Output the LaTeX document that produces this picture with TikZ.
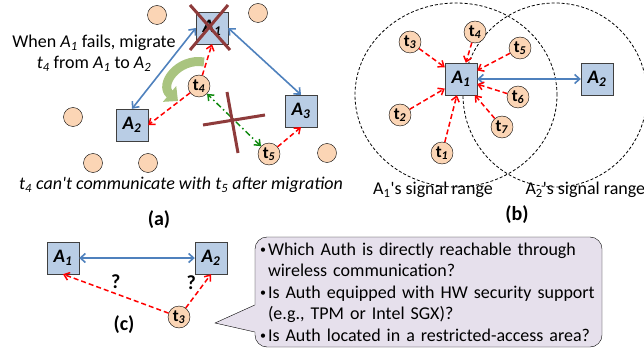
\documentclass[tikz,border=0pt]{standalone}
\usepackage{fontspec}
\setmainfont{Carlito}
\usetikzlibrary{positioning, arrows.meta}

\definecolor{authfill}{HTML}{B9CDE5}
\definecolor{thingfill}{HTML}{FBD5B5}
\definecolor{linkblue}{HTML}{4F81BD}
\definecolor{crossred}{HTML}{8E3B3B}
\definecolor{askfill}{HTML}{E6E0EC}
\definecolor{migfill}{HTML}{A9C47F}
\definecolor{peergreen}{HTML}{108A10}

\newcommand{\auth}[1]{\textbf{\textit{A}\textsubscript{\textit{#1}}}}
\newcommand{\thing}[1]{\textbf{t\textsubscript{\textit{#1}}}}
\newcommand{\ita}[2]{\textit{#1\textsubscript{#2}}}
\newcommand{\bul}{\makebox[8pt][l]{\raisebox{0.15ex}{\fontsize{12}{12}\selectfont\textbullet}}}
\newcommand{\bulpad}{\hspace*{8pt}}

\begin{document}
\begin{tikzpicture}[x=1pt, y=1pt,
  auth/.style={draw=black!75, fill=authfill, minimum size=32pt, inner sep=0pt,
               font=\fontsize{19}{19}\selectfont},
  thing/.style={circle, draw, fill=thingfill, minimum size=22pt, inner sep=0pt,
                font=\fontsize{17}{17}\selectfont},
  idle/.style={circle, draw, fill=thingfill, minimum size=19pt, inner sep=0pt},
  link/.style={{Straight Barb[length=5pt,width=9pt]}-{Straight Barb[length=5pt,width=9pt]},
               draw=linkblue, line width=1.6pt},
  req/.style={-{Straight Barb[length=5pt,width=8pt]}, draw=red, line width=1.5pt,
              dash pattern=on 5pt off 3pt},
  peer/.style={{Straight Barb[length=5pt,width=8pt]}-{Straight Barb[length=5pt,width=8pt]},
               draw=peergreen, line width=1.5pt, dash pattern=on 6pt off 3pt on 1.5pt off 3pt},
  cut/.style={draw=crossred, line width=3pt},
  migrate/.style={draw=migfill, line width=9pt, -{Triangle[length=11pt,width=20pt]}},
  sigrange/.style={draw, line width=0.8pt, dash pattern=on 3pt off 2pt},
  txt/.style={font=\fontsize{18}{21}\selectfont},
  tag/.style={font=\bfseries\fontsize{20}{20}\selectfont},
  bubble/.style={draw, fill=askfill, rounded corners=12pt, minimum height=110pt,
                 text width=337pt, inner xsep=5pt, align=left,
                 font=\fontsize{18}{21.5}\selectfont},
]
  \useasboundingbox (0,0) rectangle (644,351);

  % (a) failure of A1
  \coordinate (migfrom) at (204,289);
  \coordinate (migto) at (178,250);
  \draw[migrate] (migfrom) to[out=170, in=140, looseness=1.4] (migto);

  \node[auth] (A1a) at (212,323) {\auth{1}};
  \node[auth] (A2a) at (132,226) {\auth{2}};
  \node[auth] (A3a) at (301,240) {\auth{3}};
  \node[thing] (t4a) at (199,265) {\thing{4}};
  \node[thing] (t5a) at (269,197) {\thing{5}};
  \foreach \p [count=\i] in {(157,336),(258,338),(73,234),(93,188),(148,188),(327,198)}
    \node[idle] (idle\i) at \p {};

  \draw[link] (A1a.west) -- (A2a.north);
  \draw[link] (A1a.east) -- (A3a.north);
  \draw[req] (t4a) -- (A1a.south);
  \draw[req] (t4a) -- (A2a.east);
  \draw[req] (t5a) -- (A3a.south);
  \draw[peer] (t5a) -- (t4a);

  \draw[cut] ([shift={(-22,23)}]A1a.center) -- ([shift={(18,-22)}]A1a.center)
             ([shift={(16,23)}]A1a.center) -- ([shift={(-22,-22)}]A1a.center);
  \draw[cut] (203,226) -- (265,236) (227,259) -- (238,198);

  \node[txt, align=center] (whenfail) at (94,298)
    {When \ita{A}{1} fails, migrate\\ \ita{t}{4} from \ita{A}{1} to \ita{A}{2}};
  \node[txt] (afterinfo) at (181,166)
    {\textit{\ita{t}{4} can\textquotesingle t communicate with \ita{t}{5} after migration}};
  \node[tag] (capa) at (159,131) {(a)};

  % (b) signal ranges
  \draw[sigrange] (456,256) ellipse [x radius=101, y radius=92];
  \draw[sigrange] (555,256) circle [radius=92];
  \node[auth] (A1b) at (461,272) {\auth{1}};
  \node[auth] (A2b) at (597,272) {\auth{2}};
  \draw[link] (A1b) -- (A2b);
  \foreach \n/\x/\y in {1/442/198, 2/400/236, 3/410/309, 4/475/319,
                        5/520/303, 6/518/254, 7/502/224} {
    \node[thing] (t\n b) at (\x,\y) {\thing{\n}};
    \draw[req] (t\n b) -- (A1b);
  }
  \node[txt] (rng1) at (433,161) {A\textsubscript{1}\textquotesingle s signal range};
  \node[txt, anchor=west] (rng2) at (522,161) {A\textsubscript{2}\textquotesingle s signal range};
  \node[tag] (capb) at (517,136) {(b)};

  % (c) choosing an Auth
  \node[auth] (A1c) at (63,93) {\auth{1}};
  \node[auth] (A2c) at (211,93) {\auth{2}};
  \node[thing] (t3c) at (179,34) {\thing{3}};
  \draw[link] (A1c) -- (A2c);
  \draw[req] (t3c) -- node[tag, above=1pt]{?} (A1c.south);
  \draw[req] (t3c) -- node[tag, xshift=-7pt, yshift=8pt]{?} (A2c.south);
  \node[tag] (capc) at (124,26) {(c)};

  \node[bubble] (ask) at (428.5,59) {%
    \bul Which Auth is directly reachable through\\
    \bulpad wireless communication?\\
    \bul Is Auth equipped with HW security support\\
    \bulpad (e.g., TPM or Intel SGX)?\\
    \bul Is Auth located in a restricted-access area?};
  \coordinate (asktip) at (215,28);
  \fill[askfill] ([yshift=-13pt]ask.west) -- (asktip) -- ([yshift=-40pt]ask.west)
    -- ([shift={(3,-40)}]ask.west) -- ([shift={(3,-13)}]ask.west) -- cycle;
  \draw ([yshift=-13pt]ask.west) -- (asktip) -- ([yshift=-40pt]ask.west);
\end{tikzpicture}
\end{document}
